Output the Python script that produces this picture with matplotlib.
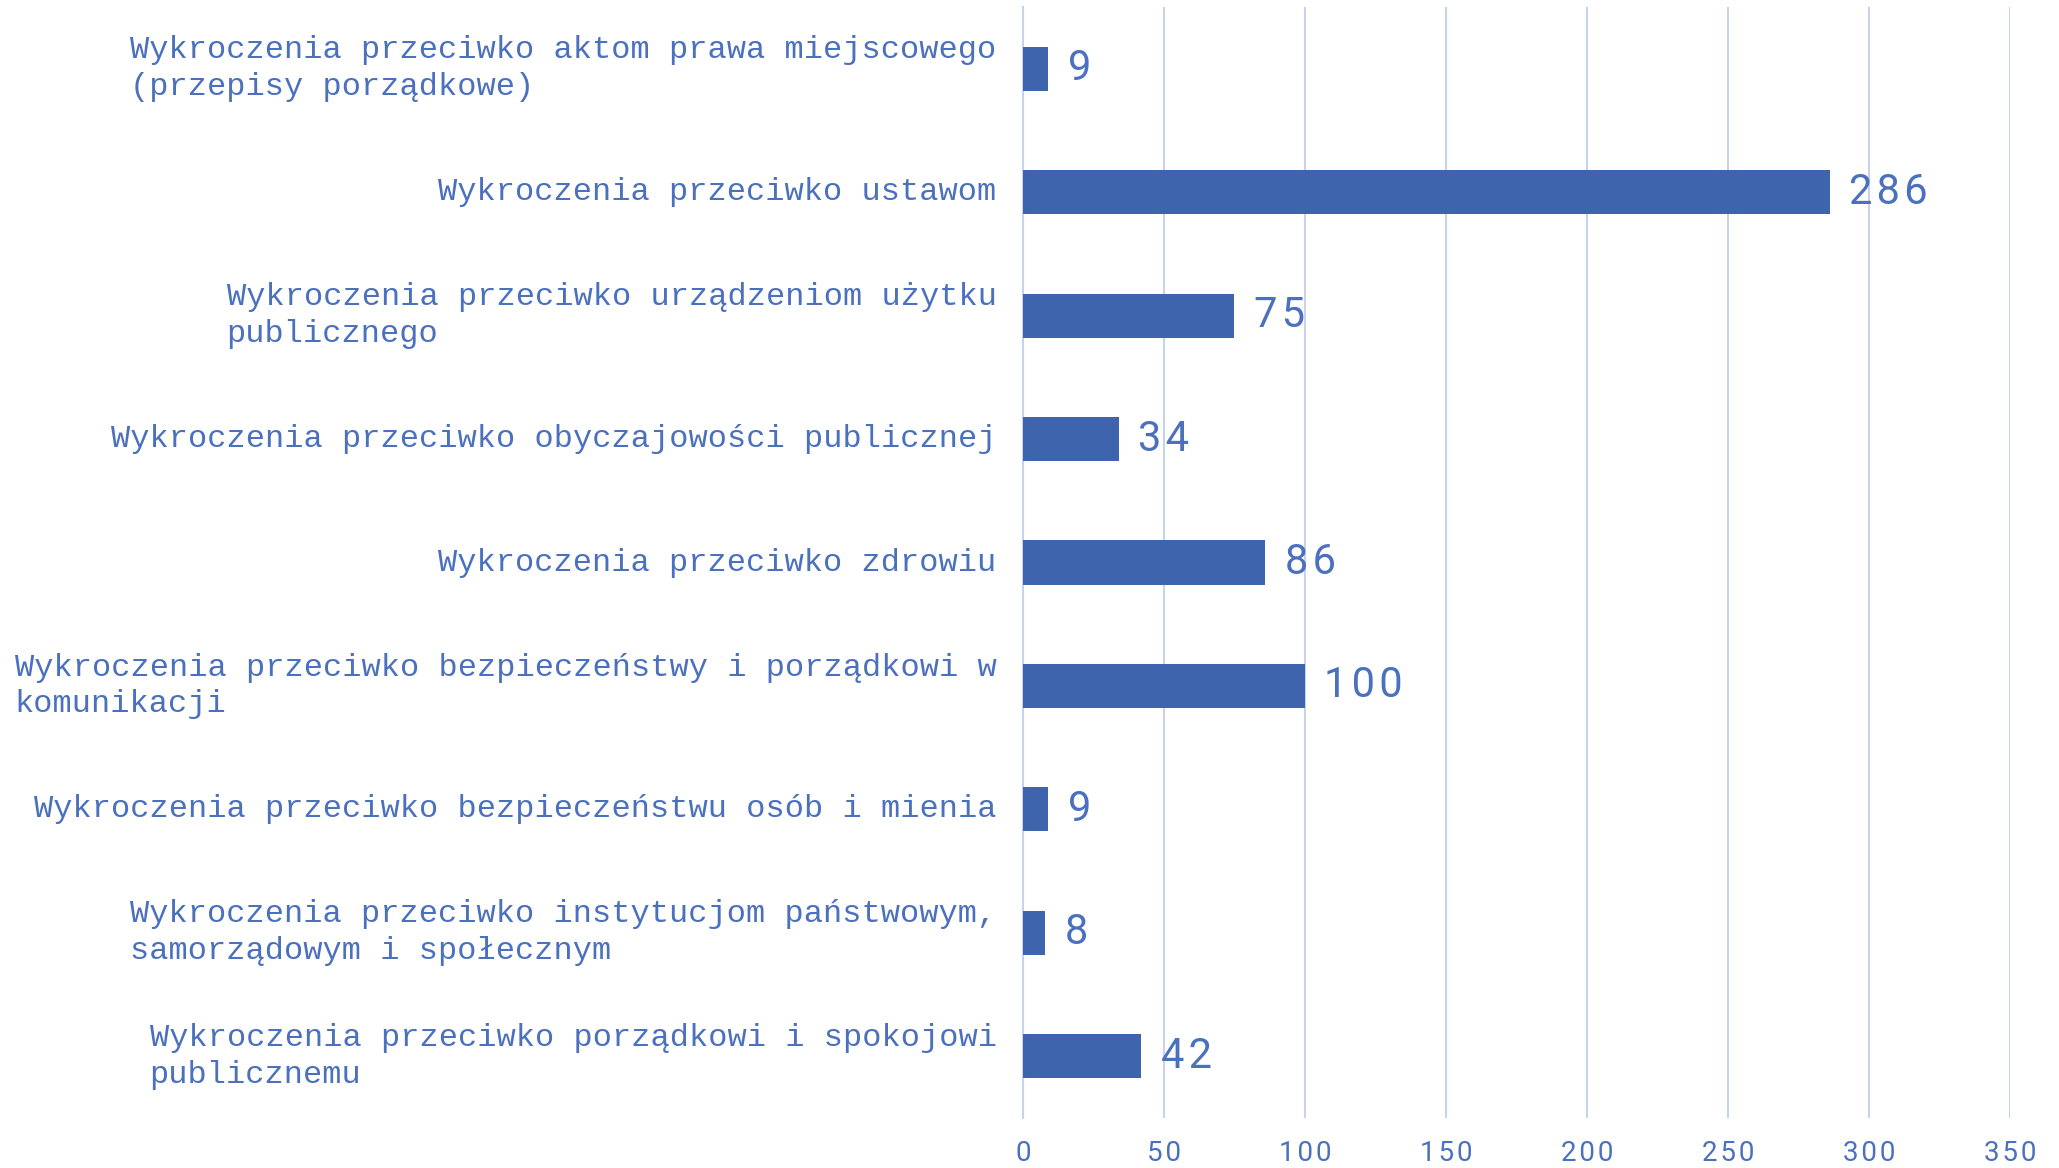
import numpy as np
import matplotlib.pyplot as plt

# categories listed top to bottom, as in the chart
categories = [
    'Wykroczenia przeciwko aktom prawa miejscowego\n(przepisy porządkowe)',
    'Wykroczenia przeciwko ustawom',
    'Wykroczenia przeciwko urządzeniom użytku\npublicznego',
    'Wykroczenia przeciwko obyczajowości publicznej',
    'Wykroczenia przeciwko zdrowiu',
    'Wykroczenia przeciwko bezpieczeństwy i porządkowi w\nkomunikacji',
    'Wykroczenia przeciwko bezpieczeństwu osób i mienia',
    'Wykroczenia przeciwko instytucjom państwowym,\nsamorządowym i społecznym',
    'Wykroczenia przeciwko porządkowi i spokojowi\npublicznemu',
]
counts = [9, 286, 75, 34, 86, 100, 9, 8, 42]
xticks = [0, 50, 100, 150, 200, 250, 300, 350]

bar_color = '#3D64AD'
text_color = '#4A70BE'
grid_color = '#C8D3EB'


def spaced(n):
    # the chart font has loose digit spacing
    return '\u200a'.join(str(n))


fig = plt.figure(figsize=(20.59, 11.68), dpi=100)
ax = fig.add_axes([0.4968, 0.0428, 0.4794, 0.9512])

y = np.arange(len(categories))
ax.barh(y, counts, height=0.357, color=bar_color, zorder=3)
ax.set_ylim(len(categories) - 0.5, -0.5)
ax.set_xlim(0, 350)

# gridlines
ax.set_xticks(xticks)
ax.set_xticklabels([spaced(t) for t in xticks])
ax.grid(axis='x', color=grid_color, linewidth=1.5, zorder=0)
for s in ['top', 'right', 'bottom']:
    ax.spines[s].set_visible(False)
ax.spines['left'].set_color(grid_color)
ax.spines['left'].set_linewidth(1.5)

ax.tick_params(axis='both', length=0)
ax.tick_params(axis='x', pad=16)
for lbl in ax.get_xticklabels():
    lbl.set_fontfamily('Roboto')
    lbl.set_fontsize(20)
    lbl.set_color(text_color)

# category labels, right aligned block with left aligned lines
ax.set_yticks([])
for i, cat in enumerate(categories):
    ax.annotate(cat, xy=(0, i), xycoords=('axes fraction', 'data'),
                xytext=(-19, 0), textcoords='offset points',
                ha='right', va='center', multialignment='left',
                family='Liberation Mono', fontsize=23, color=text_color,
                linespacing=1.3)

# value labels
for i, v in enumerate(counts):
    ax.annotate(spaced(v), xy=(v, i), xytext=(14, 0), textcoords='offset points',
                ha='left', va='center', family='Roboto',
                fontsize=30, color=text_color)

fig.savefig('out.png', dpi=100)
